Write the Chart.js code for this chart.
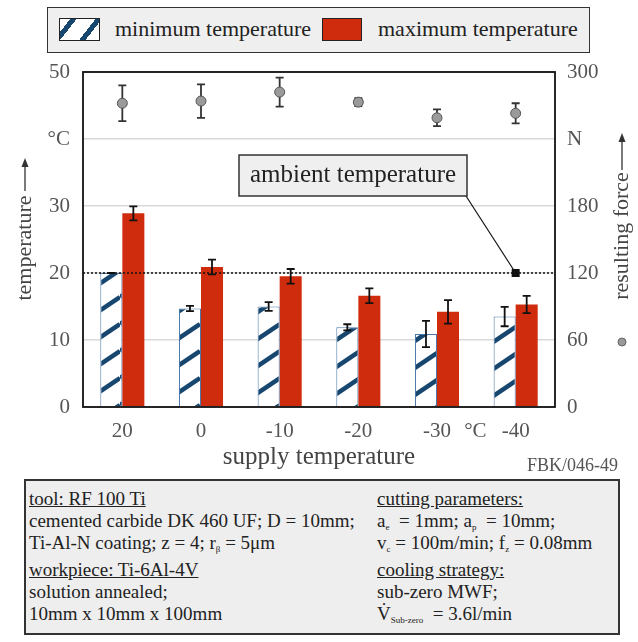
<!DOCTYPE html>
<html>
<head>
<meta charset="utf-8">
<script src="https://cdn.jsdelivr.net/npm/chart.js@4.4.1/dist/chart.umd.min.js"></script>
<style>
  body { margin: 0; background: #fff; font-family: "Liberation Serif", "Times New Roman", serif; }
  #wrap { position: relative; width: 638px; height: 642px; overflow: hidden; }
  #chart { position: absolute; left: 0; top: 0; }
  #legend { position: absolute; left: 47px; top: 7px; width: 541px; height: 44px;
            border: 1.5px solid #333; background: #efefef; }
  #legend .sw { position: absolute; top: 10px; height: 21px; border: 1.3px solid #222; }
  #legend .hatch { left: 11px; width: 39px;
            background: repeating-linear-gradient(128deg, #fff 0 8px, #17466f 8px 13px, #fff 13px 20px); }
  #legend .red { left: 274px; width: 38px; background: #cf2c0e; }
  #legend .lt { position: absolute; top: 9px; font-size: 22px; line-height: 24px; color: #222; white-space: nowrap; }
  #stamp { position: absolute; right: 20px; top: 455px; font-size: 18px; color: #555; }
  #info { position: absolute; left: 24px; top: 479px; width: 592px; height: 152px;
          border: 2px solid #333; background: #eeeeee; color: #222; font-size: 19px; }
  #info div { position: absolute; white-space: nowrap; line-height: 22px; }
  #info sub { font-size: 9px; vertical-align: -3px; }
</style>
</head>
<body>
<div id="wrap">
  <canvas id="chart" width="638" height="642"></canvas>
  <div id="legend">
    <span class="sw hatch"></span><span class="lt" style="left:67px">minimum temperature</span>
    <span class="sw red"></span><span class="lt" style="left:330px">maximum temperature</span>
  </div>
  <div id="stamp">FBK/046-49</div>
  <div id="info">
    <div style="left:3px;top:7px"><u>tool: RF 100 Ti</u></div>
    <div style="left:3px;top:29px">cemented carbide DK 460 UF; D = 10mm;</div>
    <div style="left:3px;top:51px">Ti-Al-N coating; z = 4; r<sub>β</sub> = 5μm</div>
    <div style="left:3px;top:78px"><u>workpiece: Ti-6Al-4V</u></div>
    <div style="left:3px;top:100px">solution annealed;</div>
    <div style="left:3px;top:122px">10mm x 10mm x 100mm</div>
    <div style="left:351px;top:7px"><u>cutting parameters:</u></div>
    <div style="left:351px;top:29px">a<sub>e</sub>&nbsp; = 1mm; a<sub>p</sub>&nbsp; = 10mm;</div>
    <div style="left:351px;top:51px">v<sub>c</sub> = 100m/min; f<sub>z</sub> = 0.08mm</div>
    <div style="left:351px;top:78px"><u>cooling strategy:</u></div>
    <div style="left:351px;top:100px">sub-zero MWF;</div>
    <div style="left:351px;top:122px">V̇<sub>Sub-zero</sub>&nbsp; = 3.6l/min</div>
  </div>
</div>
<script>
// supply temperature of the coolant, °C
var supplyTemps = ['20', '0', '-10', '-20', '-30', '-40'];

// workpiece temperature, °C
var minTemp = [20.0, 14.7, 15.0, 11.9, 10.9, 13.5];
var minTempErr = [0, 0.4, 0.65, 0.45, 1.95, 1.45];
var maxTemp = [28.9, 20.9, 19.5, 16.6, 14.2, 15.3];
var maxTempErr = [1.05, 1.1, 1.1, 1.1, 1.75, 1.3];

// resulting force, N
var force = [272, 274, 282, 273, 259, 263];
var forceErr = [16, 15, 13, 3.5, 7.5, 9];

var ambientTemp = 20;
var tempTicks = [0, 10, 20, 30, 40, 50];
var forceTicks = [0, 60, 120, 180, 240, 300];

var serif = '"Liberation Serif", "Times New Roman", serif';

function makeHatch() {
    var c = document.createElement('canvas');
    c.width = 40; c.height = 27;
    var g = c.getContext('2d');
    g.fillStyle = '#fff';
    g.fillRect(0, 0, 40, 27);
    g.strokeStyle = '#17466f';
    g.lineWidth = 4.5;
    [-27, 0, 27].forEach(function(off) {
        g.beginPath();
        g.moveTo(0, 27 + off);
        g.lineTo(40, off);
        g.stroke();
    });
    return g.createPattern(c, 'repeat');
}

function drawErrors(chart, index) {
    var ds = chart.data.datasets[index];
    if (!ds.errors) return;
    var meta = chart.getDatasetMeta(index);
    var scale = chart.scales[meta.yAxisID];
    var ctx = chart.ctx;
    ctx.save();
    ctx.strokeStyle = ds.errorColor;
    ctx.lineWidth = 1.8;
    meta.data.forEach(function(el, j) {
        var x = el.x;
        var yTop = scale.getPixelForValue(ds.data[j] + ds.errors[j]);
        var yBot = scale.getPixelForValue(ds.data[j] - ds.errors[j]);
        ctx.beginPath();
        ctx.moveTo(x, yTop); ctx.lineTo(x, yBot);
        ctx.moveTo(x - 4, yTop); ctx.lineTo(x + 4, yTop);
        ctx.moveTo(x - 4, yBot); ctx.lineTo(x + 4, yBot);
        ctx.stroke();
    });
    ctx.restore();
}

// error bars: behind the force markers, on top of the bars
var errorBars = {
    id: 'errorBars',
    beforeDatasetDraw: function(chart, args) {
        if (chart.data.datasets[args.index].type === 'line') drawErrors(chart, args.index);
    },
    afterDatasetDraw: function(chart, args) {
        if (chart.data.datasets[args.index].type !== 'line') drawErrors(chart, args.index);
    }
};

function arrowUp(ctx, x, y0, y1) {
    ctx.beginPath();
    ctx.moveTo(x, y0); ctx.lineTo(x, y1 + 6);
    ctx.stroke();
    ctx.beginPath();
    ctx.moveTo(x, y1); ctx.lineTo(x - 3.5, y1 + 9); ctx.lineTo(x + 3.5, y1 + 9);
    ctx.closePath();
    ctx.fill();
}

var extras = {
    id: 'extras',
    afterDraw: function(chart) {
        var ctx = chart.ctx, a = chart.chartArea;
        var x = chart.scales.x, y = chart.scales.y;
        ctx.save();

        // ambient temperature line with marker on the last category
        var ya = y.getPixelForValue(ambientTemp);
        ctx.strokeStyle = '#111';
        ctx.lineWidth = 1.5;
        ctx.setLineDash([2, 2]);
        ctx.beginPath();
        ctx.moveTo(a.left, ya); ctx.lineTo(a.right, ya);
        ctx.stroke();
        ctx.setLineDash([]);
        var xm = x.getPixelForValue(supplyTemps.length - 1);
        ctx.lineWidth = 1.2;
        ctx.beginPath();
        ctx.moveTo(466, 196); ctx.lineTo(xm, ya);
        ctx.stroke();
        ctx.fillStyle = '#111';
        ctx.fillRect(xm - 4, ya - 4, 8, 8);

        // callout box
        ctx.fillStyle = '#efefef';
        ctx.fillRect(239, 155, 228, 41);
        ctx.strokeStyle = '#333';
        ctx.lineWidth = 1.5;
        ctx.strokeRect(239, 155, 228, 41);
        ctx.fillStyle = '#222';
        ctx.font = '25px ' + serif;
        ctx.textAlign = 'center';
        ctx.textBaseline = 'middle';
        ctx.fillText('ambient temperature', 353, 175);

        // plot frame
        ctx.strokeStyle = '#111';
        ctx.lineWidth = 1.8;
        ctx.strokeRect(a.left, a.top, a.right - a.left, a.bottom - a.top);

        // unit next to the category labels
        ctx.fillStyle = '#555';
        ctx.font = '21px ' + serif;
        ctx.fillText('°C', (x.getPixelForValue(4) + x.getPixelForValue(5)) / 2 - 1, 431);

        // axis titles
        ctx.fillStyle = '#444';
        ctx.font = '25px ' + serif;
        ctx.fillText('supply temperature', (a.left + a.right) / 2, 457);

        ctx.font = '22px ' + serif;
        ctx.save();
        ctx.translate(25, 248);
        ctx.rotate(-Math.PI / 2);
        ctx.fillText('temperature', 0, 0);
        ctx.restore();
        ctx.save();
        ctx.translate(622, 236);
        ctx.rotate(-Math.PI / 2);
        ctx.fillText('resulting force', 0, 0);
        ctx.restore();

        ctx.strokeStyle = '#333';
        ctx.fillStyle = '#333';
        ctx.lineWidth = 1.3;
        arrowUp(ctx, 25, 191, 158);
        arrowUp(ctx, 622, 170, 133);

        ctx.beginPath();
        ctx.arc(622, 342, 4, 0, Math.PI * 2);
        ctx.fillStyle = '#9a9a9a';
        ctx.fill();
        ctx.strokeStyle = '#666';
        ctx.lineWidth = 1;
        ctx.stroke();

        ctx.restore();
    }
};

var ctx = document.getElementById('chart').getContext('2d');
var chart = new Chart(ctx, {
    data: {
        labels: supplyTemps,
        datasets: [
            {
                type: 'line',
                label: 'resulting force',
                data: force,
                errors: forceErr,
                errorColor: '#333',
                yAxisID: 'y1',
                showLine: false,
                pointRadius: 5,
                pointBackgroundColor: '#9a9a9a',
                pointBorderColor: '#555',
                pointBorderWidth: 1
            },
            {
                type: 'bar',
                label: 'minimum temperature',
                data: minTemp,
                errors: minTempErr,
                errorColor: '#111',
                yAxisID: 'y',
                backgroundColor: makeHatch(),
                borderColor: '#4a78a8',
                borderWidth: 1,
                categoryPercentage: 0.56,
                barPercentage: 1.0
            },
            {
                type: 'bar',
                label: 'maximum temperature',
                data: maxTemp,
                errors: maxTempErr,
                errorColor: '#111',
                yAxisID: 'y',
                backgroundColor: '#cf2c0e',
                borderWidth: 0,
                categoryPercentage: 0.56,
                barPercentage: 1.0
            }
        ]
    },
    options: {
        responsive: false,
        animation: false,
        layout: { padding: { top: 72, left: 0, right: 0, bottom: 0 } },
        plugins: { legend: { display: false }, tooltip: { enabled: false } },
        scales: {
            x: {
                grid: { display: false, drawTicks: false },
                border: { display: false },
                ticks: { padding: 12, color: '#555', font: { family: serif, size: 21 } },
                afterFit: function(s) { s.height = 235; }
            },
            y: {
                position: 'left',
                min: tempTicks[0],
                max: tempTicks[tempTicks.length - 1],
                afterBuildTicks: function(s) { s.ticks = tempTicks.map(function(v) { return { value: v }; }); },
                ticks: {
                    padding: 13, color: '#555', font: { family: serif, size: 21 },
                    callback: function(v) { return v === 40 ? '°C' : v; }
                },
                grid: { color: '#d9d9d9', lineWidth: 1.5, drawTicks: false },
                border: { display: false },
                afterFit: function(s) { s.width = 83; }
            },
            y1: {
                position: 'right',
                min: forceTicks[0],
                max: forceTicks[forceTicks.length - 1],
                afterBuildTicks: function(s) { s.ticks = forceTicks.map(function(v) { return { value: v }; }); },
                ticks: {
                    padding: 12, color: '#555', font: { family: serif, size: 21 },
                    callback: function(v) { return v === 240 ? 'N' : v; }
                },
                grid: { display: false, drawTicks: false },
                border: { display: false },
                afterFit: function(s) { s.width = 83; }
            }
        }
    },
    plugins: [errorBars, extras]
});
</script>
</body>
</html>
